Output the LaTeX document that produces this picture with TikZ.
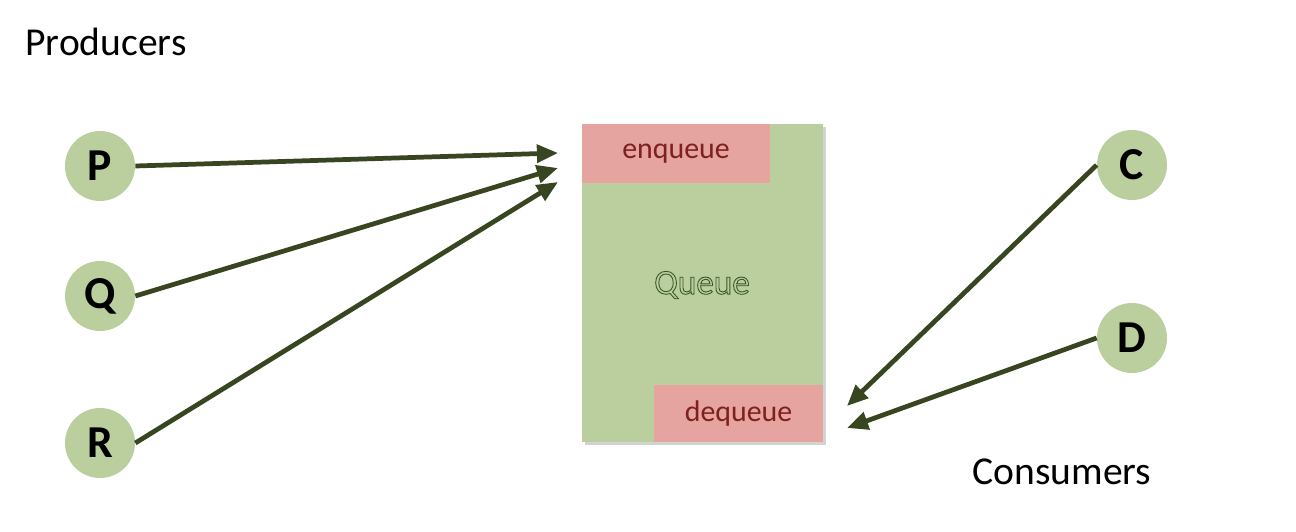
\documentclass[tikz,border=0pt]{standalone}
\usepackage{fontspec}
\setmainfont{Carlito}
\usepackage{tikz}
\usetikzlibrary{arrows.meta,shadows}

\definecolor{qgreen}{RGB}{187,206,157}
\definecolor{qred}{RGB}{229,164,160}
\definecolor{qtext}{RGB}{125,32,30}
\definecolor{qline}{RGB}{55,70,33}
\definecolor{qoutline}{RGB}{55,85,40}

\newcommand{\outlinetext}[1]{\special{pdf:literal direct 1 Tr 0.5 w}#1\special{pdf:literal direct 0 Tr}}

\begin{document}
\begin{tikzpicture}
\tikzstyle{agent} = [circle, fill=qgreen, minimum size=1.4cm, inner sep=0pt, font=\fontsize{26}{26}\selectfont\bfseries]
\tikzstyle{slot} = [rectangle, fill=qred, inner sep=0pt, text=qtext, font=\fontsize{17}{17}\selectfont]
\tikzstyle{link} = [draw=qline, line width=2.7pt, -{Triangle[length=12pt,width=10pt]}]
\useasboundingbox (0,0) rectangle (25.92,10.62);
% queue body
\node (queue) [rectangle, fill=qgreen, minimum width=4.82cm, minimum height=6.36cm, inner sep=0pt,
  drop shadow={shadow xshift=1.5pt, shadow yshift=-1.5pt, opacity=0.35}] at (14.05,4.96) {};
\node (enq) [slot, minimum width=3.76cm, minimum height=1.18cm] at (13.52,7.55) {enqueue};
\node (deq) [slot, minimum width=3.38cm, minimum height=1.14cm] at (14.77,2.35) {dequeue};
\node (qlabel) [text=qoutline, font=\fontsize{20}{20}\selectfont] at (14.04,4.92) {\outlinetext{Queue}};
% producers and consumers
\draw (2,7.30) node[agent] (P) {P} (2,4.70) node[agent] (Q) {Q} (2,1.76) node[agent] (R) {R};
\draw (22.64,7.32) node[agent] (C) {C} (22.64,3.86) node[agent] (D) {D};
\node (prod) [font=\fontsize{22.5}{22.5}\selectfont] at (2.12,9.78) {Producers};
\node (cons) [font=\fontsize{22.5}{22.5}\selectfont] at (21.24,1.18) {Consumers};
% arrow ends
\coordinate (inP) at (11.16,7.56);
\coordinate (inQ) at (11.16,7.26);
\coordinate (inR) at (11.16,6.98);
\coordinate (outC) at (16.94,2.50);
\coordinate (outD) at (16.94,2.06);
\draw[link] (P.east)--(inP);
\draw[link] (Q.east)--(inQ);
\draw[link] (R.east)--(inR);
\draw[link] (C.west)--(outC);
\draw[link] (D.west)--(outD);
\end{tikzpicture}
\end{document}
